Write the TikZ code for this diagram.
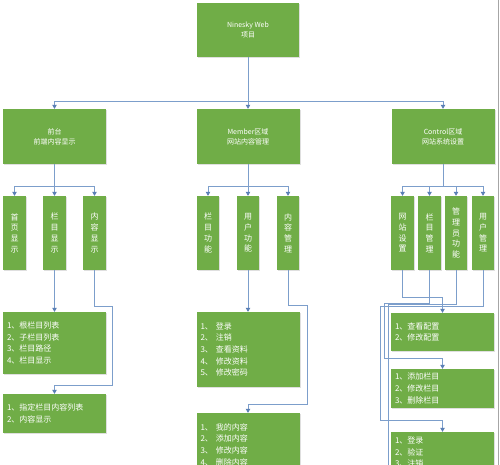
\documentclass[tikz,border=0pt]{standalone}
\usepackage{fontspec}
\setmainfont{Noto Sans CJK SC}
\usetikzlibrary{arrows.meta,shadows}
\definecolor{boxgreen}{HTML}{70AD47}
\definecolor{linecol}{HTML}{7C9ECB}
\definecolor{tipcol}{HTML}{5A7FB5}
\begin{document}
\begin{tikzpicture}[x=1pt,y=-1pt,
  gbox/.style={fill=boxgreen, draw=none, text=white, align=center, inner sep=2pt,
    drop shadow={opacity=0.25, shadow xshift=1pt, shadow yshift=-1pt}},
  hbox/.style={gbox, font=\fontsize{7}{10}\selectfont, minimum width=103pt, minimum height=55pt},
  vbox/.style={gbox, font=\fontsize{8}{10.7}\selectfont, minimum width=22.5pt, minimum height=74pt, inner sep=1pt},
  lbox/.style={gbox, font=\fontsize{8}{11.7}\selectfont, align=left, text width=95pt, inner sep=4pt, minimum width=103pt},
  conn/.style={draw=linecol, line width=0.8pt},
  arr/.style={conn, -{Triangle[width=4.5pt,length=4pt,color=tipcol]}}
]
\useasboundingbox (0,0) rectangle (500,465);
\fill[white] (0,0) rectangle (500,465);
\draw[gray!70, line width=0.8pt] (498,0) -- (498,465);

% level 1
\node[gbox, font=\fontsize{7}{10}\selectfont, minimum width=102pt, minimum height=54pt] (top) at (248,30) {Ninesky Web\\项目};

% level 2
\node[hbox] (qian) at (54.5,136.5) {前台\\前端内容显示};
\node[hbox] (mem) at (248,136.5) {Member区域\\网站内容管理};
\node[hbox] (ctl) at (443,136.5) {Control区域\\网站系统设置};

% level 3
\node[vbox] (q1) at (14.5,233) {首\\页\\显\\示};
\node[vbox] (q2) at (54.5,233) {栏\\目\\显\\示};
\node[vbox] (q3) at (94.5,233) {内\\容\\显\\示};
\node[vbox] (m1) at (208,233) {栏\\目\\功\\能};
\node[vbox] (m2) at (248,233) {用\\户\\功\\能};
\node[vbox] (m3) at (288,233) {内\\容\\管\\理};
\node[vbox] (c1) at (402.5,233) {网\\站\\设\\置};
\node[vbox] (c2) at (429.5,233) {栏\\目\\管\\理};
\node[vbox] (c3) at (456,233) {管\\理\\员\\功\\能};
\node[vbox] (c4) at (483,233) {用\\户\\管\\理};

% level 4
\node[lbox, minimum height=62pt] (ql1) at (54.5,343) {1、根栏目列表\\2、子栏目列表\\3、栏目路径\\4、栏目显示};
\node[lbox, minimum height=39pt] (ql2) at (54.5,413.5) {1、指定栏目内容列表\\2、内容显示};
\node[lbox, minimum height=75pt] (ml1) at (248,349.5) {1、\hspace{3pt}登录\\2、\hspace{3pt}注销\\3、\hspace{3pt}查看资料\\4、\hspace{3pt}修改资料\\5、\hspace{3pt}修改密码};
\node[lbox, minimum height=63pt] (ml2) at (248,444.5) {1、\hspace{3pt}我的内容\\2、\hspace{3pt}添加内容\\3、\hspace{3pt}修改内容\\4、\hspace{3pt}删除内容};
\node[lbox, minimum height=38pt] (cl1) at (442.5,332) {1、查看配置\\2、修改配置};
\node[lbox, minimum height=39pt] (cl2) at (442.5,388.5) {1、添加栏目\\2、修改栏目\\3、删除栏目};
\node[lbox, minimum height=40pt] (cl3) at (442.5,452) {1、登录\\2、验证\\3、注销};

% coordinates
\coordinate (b1) at (248,101);
\coordinate (bq) at (54.5,186);
\coordinate (bm) at (248,186);
\coordinate (bc) at (443,186);
\coordinate (qa) at (112,306);
\coordinate (qb) at (112,385);
\coordinate (ma) at (307,305);
\coordinate (mb) at (307,404);
\coordinate (ca) at (442.5,297);
\coordinate (cb1) at (384,303);
\coordinate (cb2) at (442.5,358);
\coordinate (cc1) at (388,304.5);
\coordinate (cc2) at (388,470);
\coordinate (cd1) at (380,306);
\coordinate (cd2) at (442.5,420);

% level 1 -> 2
\draw[arr] (top.south) -- (mem.north);
\draw[arr] (b1) -| (qian.north);
\draw[arr] (b1) -| (ctl.north);

% level 2 -> 3
\draw[arr] (qian.south) -- (q2.north);
\draw[arr] (bq) -| (q1.north);
\draw[arr] (bq) -| (q3.north);
\draw[arr] (mem.south) -- (m2.north);
\draw[arr] (bm) -| (m1.north);
\draw[arr] (bm) -| (m3.north);
\draw[conn] (ctl.south) -- (bc);
\draw[arr] (bc) -| (c1.north);
\draw[arr] (bc) -| (c2.north);
\draw[arr] (bc) -| (c3.north);
\draw[arr] (bc) -| (c4.north);

% level 3 -> 4 (front)
\draw[arr] (q2.south) -- (ql1.north);
\draw[arr] (q3.south) |- (qa) -- (qb) -| (ql2.north);

% member
\draw[arr] (m2.south) -- (ml1.north);
\draw[arr] (m3.south) |- (ma) -- (mb) -| (ml2.north);

% control
\draw[arr] (c1.south) |- (ca) -- (cl1.north);
\draw[arr] (c2.south) |- (cb1) |- (cb2) -- (cl2.north);
\draw[conn] (c3.south) |- (cc1) -- (cc2);
\draw[arr] (c4.south) |- (cd1) |- (cd2) -- (cl3.north);
\end{tikzpicture}
\end{document}
